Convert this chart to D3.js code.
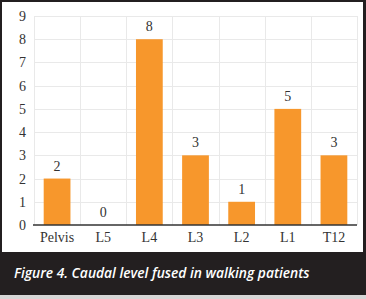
<!DOCTYPE html>
<html>
<head>
<meta charset="utf-8">
<script src="https://cdn.jsdelivr.net/npm/d3@7"></script>
<style>
  body { margin: 0; background: #fff; }
  svg text.tick-label, svg text.value-label { font-family: "Liberation Serif", "DejaVu Serif", serif; font-size: 14px; fill: #333; }
  svg text.caption { font-family: "Open Sans", sans-serif; font-style: italic; font-weight: 600; font-size: 13.8px; fill: #fff; }
</style>
</head>
<body>
<div id="wrapper"></div>
<script>
// data
const categories = ["Pelvis", "L5", "L4", "L3", "L2", "L1", "T12"]
const counts = [2, 0, 8, 3, 1, 5, 3]
const yTicks = [0, 1, 2, 3, 4, 5, 6, 7, 8, 9]
const caption = "Figure 4. Caudal level fused in walking patients"

function drawBarChart() {
  const width = 366
  const height = 299
  const plot = { left: 34, right: 357, top: 16, bottom: 225 }

  const svg = d3.select("#wrapper")
    .append("svg")
      .attr("width", width)
      .attr("height", height)

  // frame: dark border and caption band
  svg.append("rect")
      .attr("width", width)
      .attr("height", height)
      .attr("fill", "#d6d6d6")
  svg.append("rect")
      .attr("width", width)
      .attr("height", 295)
      .attr("fill", "#231f20")
  svg.append("rect")
      .attr("x", 2)
      .attr("y", 2)
      .attr("width", 361)
      .attr("height", 250)
      .attr("fill", "#fff")

  // scales
  const xScale = d3.scaleBand()
    .domain(categories)
    .range([plot.left, plot.right])
    .paddingInner(0.42)
    .paddingOuter(0.21)

  const yScale = d3.scaleLinear()
    .domain([0, 9])
    .range([plot.bottom, plot.top])

  // grid
  const grid = svg.append("g")
      .attr("stroke", "#e9e9e9")
      .attr("stroke-width", 1)
  grid.selectAll(".h")
    .data(yTicks.slice(1))
    .join("line")
      .attr("x1", plot.left)
      .attr("x2", plot.right)
      .attr("y1", d => Math.round(yScale(d)) + 0.5)
      .attr("y2", d => Math.round(yScale(d)) + 0.5)
  const step = xScale.step()
  grid.selectAll(".v")
    .data(d3.range(categories.length + 1))
    .join("line")
      .attr("x1", i => Math.round(plot.left + i * step) + 0.5)
      .attr("x2", i => Math.round(plot.left + i * step) + 0.5)
      .attr("y1", plot.top)
      .attr("y2", plot.bottom)

  // bars
  svg.append("g")
    .selectAll("rect")
    .data(categories)
    .join("rect")
      .attr("x", d => xScale(d))
      .attr("width", xScale.bandwidth())
      .attr("y", (d, i) => yScale(counts[i]))
      .attr("height", (d, i) => yScale(0) - yScale(counts[i]))
      .attr("fill", "#f7972c")

  // value labels
  svg.append("g")
    .selectAll("text")
    .data(categories)
    .join("text")
      .attr("class", "value-label")
      .attr("x", d => xScale(d) + xScale.bandwidth() / 2)
      .attr("y", (d, i) => yScale(counts[i]) - 8)
      .attr("text-anchor", "middle")
      .text((d, i) => counts[i])

  // axes
  const yAxis = svg.append("g")
      .attr("transform", "translate(26,0)")
      .attr("font-family", null)
    .call(d3.axisLeft(yScale).tickValues(yTicks).tickSize(0).tickPadding(0))
  yAxis.select(".domain").remove()
  yAxis.selectAll("text")
      .attr("class", "tick-label")
      .attr("fill", null)

  const xAxis = svg.append("g")
      .attr("transform", `translate(0,${plot.bottom})`)
    .call(d3.axisBottom(xScale).tickSize(0).tickPadding(7))
  xAxis.select(".domain")
      .attr("d", `M${plot.left - 1},0H${plot.right}`)
      .attr("stroke", "#333")
      .attr("stroke-width", 1.5)
  xAxis.selectAll("text")
      .attr("class", "tick-label")
      .attr("fill", null)

  // caption
  svg.append("text")
      .attr("class", "caption")
      .attr("x", 14)
      .attr("y", 278)
      .text(caption)
}
drawBarChart()
</script>
</body>
</html>
